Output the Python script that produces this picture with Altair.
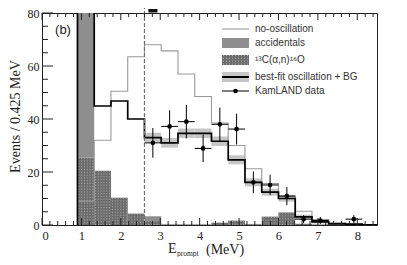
import altair as alt
import pandas as pd

# ---------------- values ----------------
bin_edges = [0.9, 1.325, 1.75, 2.175, 2.6, 3.025, 3.45, 3.875, 4.3, 4.725,
             5.15, 5.575, 6.0, 6.425, 6.85, 7.275, 7.7, 8.125, 8.55]
no_osc = [9, 32, 50.5, 63.5, 68, 65.7, 57, 48.5, 38.5, 30, 21.2, 15.6, 11, 5.2, 2.1, 0.8, 0.3, 0.1]
best_fit = [300, 44.9, 46.8, 40, 33, 31, 34.6, 34.6, 31.6, 24.6, 16.1, 12.4, 10, 3.1, 1.2, 0.4, 0.3, 0.1]
band_half = [0, 0, 0, 0, 1.8, 1.8, 1.8, 1.8, 1.8, 1.7, 1.5, 1.3, 1.2, 0.8, 0.6, 0.4, 0.3, 0.2]
c13_bg = [25.4, 20.5, 10.3, 4.3, 1.5, 0.2, 0.2, 0.2, 0.8, 1.6, 0.3, 3.1, 4.7, 0.4, 0.2, 0, 0, 0]
accidentals = [300, 0, 0, 0, 1.8, 0.2, 0.1, 0.1, 0.1, 0.1, 0.1, 0.1, 0.1, 0.1, 0, 0, 0, 0]

data_e = [2.8125, 3.2375, 3.6625, 4.0875, 4.5125, 4.9375, 5.3625, 5.7875, 6.2125, 6.6375, 7.0625, 7.9125]
data_n = [31, 37.2, 39, 28.9, 38, 36.2, 16.1, 15.1, 10.9, 2.2, 1.7, 2.2]
data_err = [5.6, 6.1, 6.3, 5.2, 6.3, 5.8, 4.1, 3.9, 3.4, 1.5, 1.3, 1.5]

threshold = [2.6]
top_marker_lo = [2.7]
top_marker_hi = [2.93]
x_ticks_major = [0, 1, 2, 3, 4, 5, 6, 7, 8]
y_ticks_major = [0, 20, 40, 60, 80]
legend_labels = ["no-oscillation", "accidentals", "\u00b9\u00b3C(\u03b1,n)\u00b9\u2076O",
                 "best-fit oscillation + BG", "KamLAND data"]
# -----------------------------------------------------------------

W, H = 335, 212
SERIF = "Liberation Serif"
SANS = "Liberation Sans"
half_bin = 0.2125
C_ACC = "#8e8e8e"
C_C13 = "#6c6c6c"
C_BAND = "#c6c6c6"
C_NOOSC = "#9a9a9a"

bins = pd.DataFrame({
    "lo": bin_edges[:-1], "hi": bin_edges[1:],
    "c13": c13_bg, "acc": accidentals, "bf": best_fit, "bh": band_half,
})
bins["acc_top"] = bins["c13"] + bins["acc"]
bins["band_lo"] = bins["bf"] - bins["bh"]
bins["band_hi"] = bins["bf"] + bins["bh"]
band = bins[bins["bh"] > 0]

# texture lines for the 13C(a,n) hatch (derived from bin edges/heights)
tex_rows = []
for lo, hi, h in zip(bin_edges[:-1], bin_edges[1:], c13_bg):
    if h >= 1.0:
        n = 6
        for k in range(n):
            tex_rows.append({"x": lo + (k + 0.5) * (hi - lo) / n, "y": min(h, 80)})
tex = pd.DataFrame(tex_rows)

def step_frame(vals, start_zero):
    xs_, ys_ = [], []
    if start_zero:
        xs_.append(bin_edges[0]); ys_.append(0)
    for e, v in zip(bin_edges[:-1], vals):
        xs_.append(e); ys_.append(v)
    xs_.append(bin_edges[-1]); ys_.append(vals[-1])
    return pd.DataFrame({"x": xs_, "y": ys_, "i": list(range(len(xs_)))})

noosc_df = step_frame(no_osc, False)
bf_df = step_frame(best_fit, True)

pts = pd.DataFrame({"e": data_e, "n": data_n, "err": data_err})
pts["lo"] = pts["e"] - half_bin
pts["hi"] = pts["e"] + half_bin
pts["ylo"] = pts["n"] - pts["err"]
pts["yhi"] = pts["n"] + pts["err"]

xs = alt.Scale(domain=[0, 8.5], nice=False, zero=False)
ys = alt.Scale(domain=[0, 80], nice=False)

XA = alt.Axis(values=x_ticks_major, format="d", ticks=False, domain=False, grid=False,
              labelFont=SERIF, labelFontSize=12.5, labelColor="#222", labelPadding=4,
              title=None)
YA = alt.Axis(values=y_ticks_major, format="d", ticks=False, domain=False, grid=False,
              labelFont=SERIF, labelFontSize=12, labelColor="#222", labelPadding=3,
              title="Events / 0.425 MeV", titleFont=SERIF, titleFontSize=14,
              titleFontWeight="normal", titleColor="#222", titleX=-20, titleY=103)

def X(f):
    return alt.X(f, scale=xs, axis=XA)

def Y(f):
    return alt.Y(f, scale=ys, axis=YA)

c13_layer = alt.Chart(bins).mark_rect(color=C_C13, clip=True).encode(
    x=X("lo:Q"), x2="hi:Q", y=Y("c13:Q"), y2=alt.datum(0))

tex_layer = alt.Chart(tex).mark_rule(color="#b0b0b0", strokeWidth=0.9,
                                     strokeDash=[1.2, 1.6], clip=True).encode(
    x=X("x:Q"), y=Y("y:Q"), y2=alt.datum(0))

acc_layer = alt.Chart(bins).mark_rect(color=C_ACC, clip=True).encode(
    x=X("lo:Q"), x2="hi:Q", y=Y("c13:Q"), y2="acc_top:Q")

band_layer = alt.Chart(band).mark_rect(color=C_BAND, clip=True).encode(
    x=X("lo:Q"), x2="hi:Q", y=Y("band_lo:Q"), y2="band_hi:Q")

noosc_layer = alt.Chart(noosc_df).mark_line(interpolate="step-after", color=C_NOOSC,
                                            strokeWidth=1.1, clip=True).encode(
    x=X("x:Q"), y=Y("y:Q"), order="i:Q")

bf_layer = alt.Chart(bf_df).mark_line(interpolate="step-after", color="#000",
                                      strokeWidth=1.7, clip=True).encode(
    x=X("x:Q"), y=Y("y:Q"), order="i:Q")

thr_layer = alt.Chart(pd.DataFrame({"t": threshold})).mark_rule(
    color="#707070", strokeDash=[4, 2], strokeWidth=1.2).encode(
    x=X("t:Q"), y=alt.value(H), y2=alt.value(-8))

marker_layer = alt.Chart(pd.DataFrame({"a": top_marker_lo, "b": top_marker_hi})).mark_rect(
    color="#111").encode(x=X("a:Q"), x2="b:Q", y=alt.value(-4), y2=alt.value(-0.5))

ev_layer = alt.Chart(pts).mark_rule(color="#000", strokeWidth=1).encode(
    x=X("e:Q"), y=Y("ylo:Q"), y2="yhi:Q")
eh_layer = alt.Chart(pts).mark_rule(color="#000", strokeWidth=1).encode(
    x=X("lo:Q"), x2="hi:Q", y=Y("n:Q"))
pt_layer = alt.Chart(pts).mark_circle(color="#000", size=22, opacity=1).encode(
    x=X("e:Q"), y=Y("n:Q"))

# inward ticks
x_minor = [round(0.2 * k, 2) for k in range(43) if k % 5 != 0]
y_minor = [v for v in range(0, 81, 5) if v % 20 != 0]

def xticks(vals, y0, y1):
    return alt.Chart(pd.DataFrame({"v": vals})).mark_rule(color="#222", strokeWidth=1).encode(
        x=X("v:Q"), y=alt.value(y0), y2=alt.value(y1))

def yticks(vals, length):
    return alt.Chart(pd.DataFrame({"v": vals})).mark_rule(color="#222", strokeWidth=1).encode(
        y=Y("v:Q"), x=alt.value(0), x2=alt.value(length))

tick_layers = [
    xticks(x_ticks_major, H, H - 7), xticks(x_minor, H, H - 4),
    xticks(x_ticks_major, 0, 7), xticks(x_minor, 0, 4),
    yticks(y_ticks_major, 11), yticks(y_minor, 6),
]

one = pd.DataFrame({"a": [0]})

def text_at(label, x, y, font, size, align="left", baseline="middle", color="#333"):
    return alt.Chart(pd.DataFrame({"t": [label]})).mark_text(
        font=font, fontSize=size, align=align, baseline=baseline, color=color).encode(
        text="t:N", x=alt.value(x), y=alt.value(y))

# legend
LX0, LX1, LT = 180, 207, 213
rows = [16, 30, 47, 64, 78]
legend = [
    alt.Chart(one).mark_rule(color=C_NOOSC, strokeWidth=1.1).encode(
        x=alt.value(LX0), x2=alt.value(LX1), y=alt.value(rows[0])),
    alt.Chart(one).mark_rect(color=C_ACC).encode(
        x=alt.value(LX0), x2=alt.value(LX1), y=alt.value(rows[1] - 5), y2=alt.value(rows[1] + 5)),
    alt.Chart(one).mark_rect(color=C_C13).encode(
        x=alt.value(LX0), x2=alt.value(LX1), y=alt.value(rows[2] - 5), y2=alt.value(rows[2] + 5)),
]
leg_tex = pd.DataFrame({"x": [LX0 + 1.5 + 3 * k for k in range(9)]})
legend.append(alt.Chart(leg_tex).mark_rule(color="#b0b0b0", strokeWidth=0.9,
                                           strokeDash=[1.2, 1.6]).encode(
    x=alt.X("x:Q", scale=None), y=alt.value(rows[2] - 5), y2=alt.value(rows[2] + 5)))
legend += [
    alt.Chart(one).mark_rect(color=C_BAND).encode(
        x=alt.value(LX0), x2=alt.value(LX1), y=alt.value(rows[3] - 5), y2=alt.value(rows[3] + 5)),
    alt.Chart(one).mark_rule(color="#000", strokeWidth=2).encode(
        x=alt.value(LX0), x2=alt.value(LX1), y=alt.value(rows[3])),
    alt.Chart(one).mark_rule(color="#000", strokeWidth=1).encode(
        x=alt.value(LX0), x2=alt.value(LX1), y=alt.value(rows[4])),
    alt.Chart(one).mark_circle(color="#000", size=22, opacity=1).encode(
        x=alt.value((LX0 + LX1) / 2), y=alt.value(rows[4])),
]
for lab, ry in zip(legend_labels, rows):
    legend.append(text_at(lab, LT, ry, SANS, 10))

annot = [
    text_at("(b)", 21, 17, SANS, 13, align="center", color="#222"),
    text_at("E", 126, 239.5, SERIF, 14, baseline="alphabetic", color="#222"),
    text_at("prompt", 135, 242.5, SERIF, 7.5, baseline="alphabetic", color="#222"),
    text_at("(MeV)", 164, 240.5, SERIF, 14, baseline="alphabetic", color="#222"),
]

chart = alt.layer(
    c13_layer, tex_layer, acc_layer, band_layer, noosc_layer, bf_layer, thr_layer,
    marker_layer, ev_layer, eh_layer, pt_layer, *tick_layers, *legend, *annot
).properties(
    width=W, height=H,
    autosize=alt.AutoSizeParams(type="none"),
    padding={"left": 34, "top": 5, "right": 20, "bottom": 32},
).configure_view(stroke="#222", strokeWidth=1)

chart.save("out.html", embed_options={"renderer": "svg", "actions": False})
